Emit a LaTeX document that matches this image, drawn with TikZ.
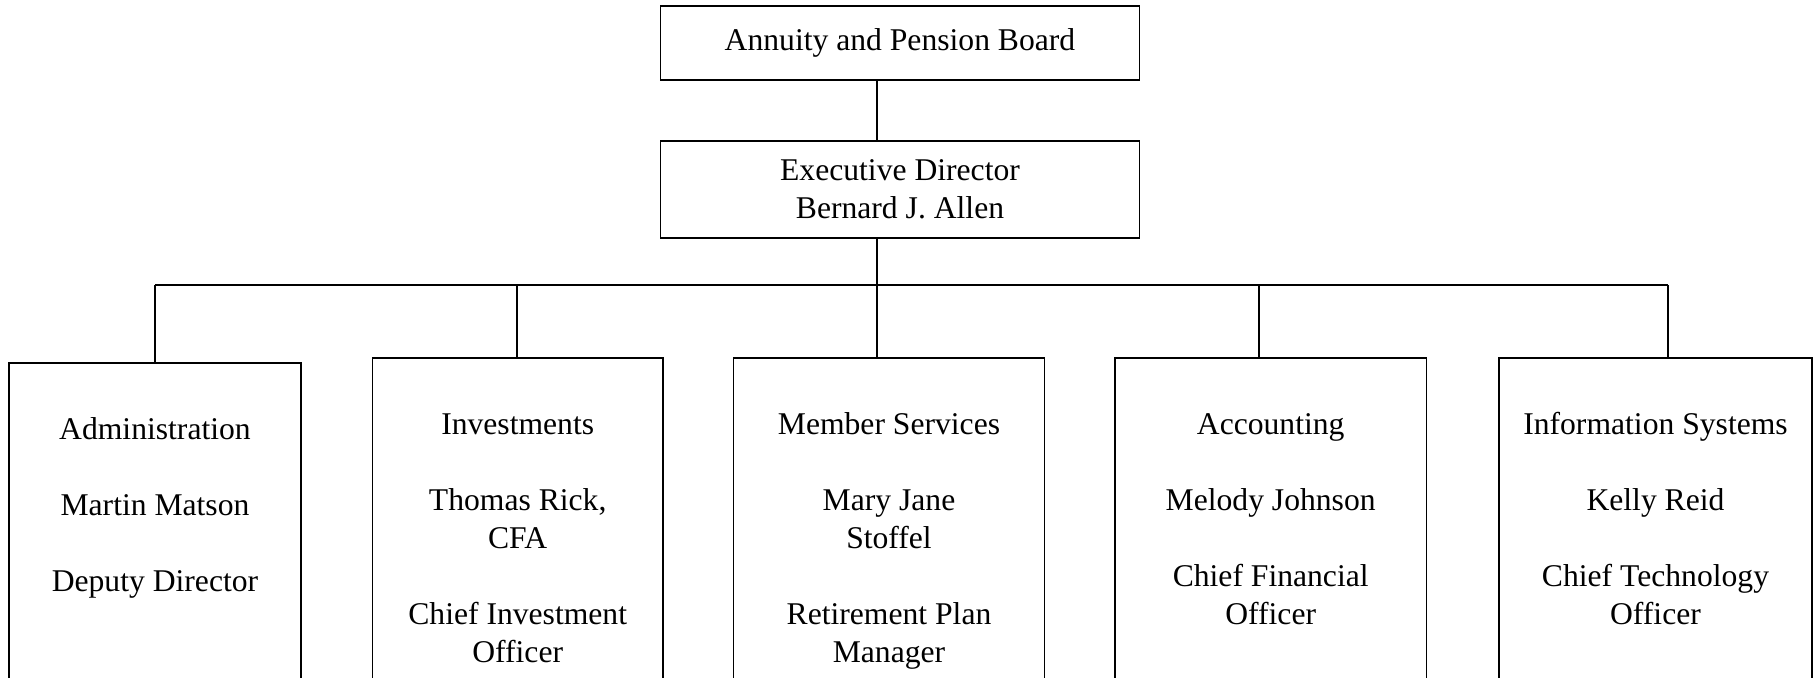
\documentclass[tikz,border=0pt]{standalone}
\usepackage{fontspec}
\setmainfont{Liberation Serif}
\usetikzlibrary{positioning}

\tikzset{
  box/.style={draw, line width=0.45pt, inner sep=0pt, align=center,
    font=\fontsize{9}{10.8}\selectfont},
  topbox/.style={box, minimum width=47.9mm},
  dept/.style={box, anchor=north},
  link/.style={line width=0.45pt},
}
% department box: fixed width, text hangs from the top
\newcommand{\deptbox}[2]{\parbox[t][40mm][t]{#1}{\centering\vspace*{5mm}\strut #2}}

\begin{document}
\begin{tikzpicture}[x=0.1mm, y=-0.1mm]

\useasboundingbox (0,0) rectangle (1814,678);
\clip (0,0) rectangle (1814,678);

% Top of the chart
\node[topbox, minimum height=7.4mm] (board) at (900,43) {Annuity and Pension Board};
\node[topbox, minimum height=9.7mm] (exec) at (900,189.5) {Executive Director\\Bernard J. Allen};

% Departments
\node[dept] (admin) at (155,362) {\deptbox{29.15mm}{Administration\\[10.8pt]Martin Matson\\[10.8pt]Deputy Director}};
\node[dept] (invest) at (517.7,357) {\deptbox{29.05mm}{Investments\\[10.8pt]Thomas Rick,\\CFA\\[10.8pt]Chief Investment\\Officer}};
\node[dept] (member) at (889,357) {\deptbox{31.1mm}{Member Services\\[10.8pt]Mary Jane\\Stoffel\\[10.8pt]Retirement Plan\\Manager}};
\node[dept] (acct) at (1270.7,357) {\deptbox{31.15mm}{Accounting\\[10.8pt]Melody Johnson\\[10.8pt]Chief Financial\\Officer}};
\node[dept] (info) at (1655.5,357) {\deptbox{31.3mm}{Information Systems\\[10.8pt]Kelly Reid\\[10.8pt]Chief Technology\\Officer}};

% Bus line
\coordinate (spine) at (877,285);
\coordinate (t1) at (155,285);
\coordinate (t2) at (517,285);
\coordinate (t4) at (1259,285);
\coordinate (t5) at (1668,285);

\draw[link] (spine |- board.south) -- (spine |- exec.north);
\draw[link] (spine |- exec.south) -- (spine);
\draw[link] (t1) -- (t5);
\draw[link] (t1) -- (t1 |- admin.north);
\draw[link] (t2) -- (t2 |- invest.north);
\draw[link] (spine) -- (spine |- member.north);
\draw[link] (t4) -- (t4 |- acct.north);
\draw[link] (t5) -- (t5 |- info.north);

\end{tikzpicture}
\end{document}
